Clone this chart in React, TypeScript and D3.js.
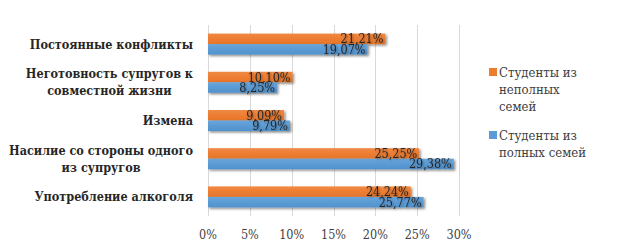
import React from "react";
import * as d3 from "d3";

const categories: string[][] = [
  ["Постоянные конфликты"],
  ["Неготовность супругов к", "совместной жизни"],
  ["Измена"],
  ["Насилие со стороны одного", "из супругов"],
  ["Употребление алкоголя"],
];
const incomplete = [21.21, 10.1, 9.09, 25.25, 24.24];
const complete = [19.07, 8.25, 9.79, 29.38, 25.77];
const xTicks = [0, 5, 10, 15, 20, 25, 30];
const legendLines = [
  ["Студенты из", "неполных", "семей"],
  ["Студенты из", "полных семей"],
];
const colors = ["#ED7D31", "#5B9BD5"];

const W = 626;
const H = 249;
const left = 208;
const right = 459;
const top = 25;
const bottom = 216;
const catFont = "bold 12.5px 'DejaVu Serif Condensed'";

function measure(s: string, font: string): number {
  const c = document.createElement("canvas").getContext("2d");
  if (!c) return s.length * 7;
  c.font = font;
  return c.measureText(s).width;
}

export default function App() {
  const x = d3.scaleLinear().domain([0, 30]).range([left, right]);
  const y = d3
    .scaleBand<number>()
    .domain(categories.map((_, i) => i))
    .range([top, bottom])
    .padding(0);
  const bw = y.bandwidth();
  const ys = d3
    .scaleBand<number>()
    .domain([0, 1])
    .range([bw * 0.225, bw * 0.775])
    .padding(0);
  const values = [incomplete, complete];
  const fmt = (v: number) => v.toFixed(2).replace(".", ",") + "%";
  const labelRight = 193;

  return (
    <div style={{ margin: -8 }}>
      <svg width={W} height={H} style={{ display: "block", background: "#fff" }}>
        <defs>
          <filter id="sh" x="-5%" y="-30%" width="115%" height="180%">
            <feDropShadow dx="1.5" dy="1.5" stdDeviation="1" floodColor="#000" floodOpacity="0.45" />
          </filter>
          <filter id="tsh" x="-10%" y="-30%" width="130%" height="170%">
            <feDropShadow dx="1" dy="1" stdDeviation="0.8" floodColor="#000" floodOpacity="0.35" />
          </filter>
          <linearGradient id="g0" x1="0" y1="0" x2="0" y2="1">
            <stop offset="0" stopColor="#F08A45" />
            <stop offset="0.5" stopColor="#ED7D31" />
            <stop offset="1" stopColor="#E5762B" />
          </linearGradient>
          <linearGradient id="g1" x1="0" y1="0" x2="0" y2="1">
            <stop offset="0" stopColor="#6AA5DA" />
            <stop offset="0.5" stopColor="#5B9BD5" />
            <stop offset="1" stopColor="#5292CC" />
          </linearGradient>
        </defs>
        <rect x={1.5} y={1.5} width={623} height={250} fill="none" stroke="#BFBFBF" strokeWidth={1} />
        {xTicks.map((t) => (
          <line key={t} x1={Math.round(x(t)) + 0.5} x2={Math.round(x(t)) + 0.5} y1={top} y2={bottom} stroke="#D9D9D9" strokeWidth={1} />
        ))}
        {categories.map((_, i) =>
          values.map((vals, s) => (
            <rect
              key={`${i}-${s}`}
              x={x(0)}
              y={(y(i) as number) + (ys(s) as number)}
              width={x(vals[i]) - x(0)}
              height={ys.bandwidth()}
              fill={`url(#g${s})`}
              filter="url(#sh)"
            />
          ))
        )}
        {categories.map((_, i) =>
          values.map((vals, s) => (
            <text
              key={`l${i}-${s}`}
              x={x(vals[i]) - 2}
              y={(y(i) as number) + (ys(s) as number) + ys.bandwidth() / 2 + 4.5}
              textAnchor="end"
              style={{ fontFamily: "'DejaVu Serif Condensed'", fontSize: 12.5 }}
              fill="#262626"
              filter="url(#tsh)"
            >
              {fmt(vals[i])}
            </text>
          ))
        )}
        {categories.map((lines, i) => {
          const cy = (y(i) as number) + bw / 2;
          const lh = 17;
          const multi = lines.length > 1;
          const maxW = multi ? Math.max(...lines.map((l) => measure(l, catFont))) : 0;
          return (
            <text
              key={`c${i}`}
              style={{ fontFamily: "'DejaVu Serif Condensed'", fontSize: 12.5, fontWeight: "bold" }}
              fill="#262626"
              textAnchor={multi ? "middle" : "end"}
            >
              {lines.map((ln, k) => (
                <tspan
                  key={k}
                  x={multi ? labelRight - maxW / 2 : labelRight}
                  y={cy + 4.5 + (k - (lines.length - 1) / 2) * lh}
                >
                  {ln}
                </tspan>
              ))}
            </text>
          );
        })}
        {xTicks.map((t) => (
          <text key={`t${t}`} x={x(t)} y={239} textAnchor="middle" style={{ fontFamily: "'DejaVu Serif Condensed'", fontSize: 12.5 }} fill="#404040">
            {t + "%"}
          </text>
        ))}
        {legendLines.map((lines, s) => {
          const y0 = s === 0 ? 72 : 135;
          return (
            <g key={`lg${s}`}>
              <rect x={489} y={y0 - 4} width={8} height={8} fill={colors[s]} />
              <text style={{ fontFamily: "'DejaVu Serif Condensed'", fontSize: 13 }} fill="#404040">
                {lines.map((ln, k) => (
                  <tspan key={k} x={499} y={y0 + 4.5 + k * 17}>
                    {ln}
                  </tspan>
                ))}
              </text>
            </g>
          );
        })}
      </svg>
    </div>
  );
}
